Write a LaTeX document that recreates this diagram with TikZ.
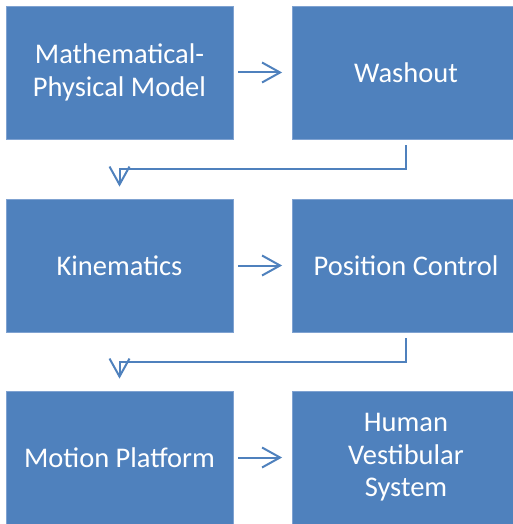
\documentclass[tikz,border=0pt]{standalone}
\usepackage{fontspec}
\setmainfont{Carlito}
\usetikzlibrary{arrows.meta}
\definecolor{boxblue}{HTML}{4F81BD}
\definecolor{boxedge}{HTML}{7FA2D1}
\begin{document}
\begin{tikzpicture}[x=1bp,y=-1bp,
  blk/.style={fill=boxblue,draw=boxedge,line width=0.8bp,minimum width=227bp,minimum height=133bp,
    inner sep=0pt,text=white,align=center,font=\fontsize{28.5bp}{32.5bp}\selectfont},
  conn/.style={draw=boxblue,line width=2bp,-{Straight Barb[length=18bp,width=20bp,line width=2bp]}}]
\useasboundingbox (0,0) rectangle (513,524);
\begin{scope}
\clip (0,0) rectangle (513,524);
\node[blk] (tl) at (119.5,72.5) {Mathematical-\\Physical Model};
\node[blk] (tr) at (406,72.5) {Washout};
\node[blk] (ml) at (119.5,265.5) {Kinematics};
\node[blk] (mr) at (406,265.5) {Position Control};
\node[blk] (bl) at (119.5,457.5) {Motion Platform};
\node[blk] (br) at (406,457.5) {Human\\Vestibular\\System};
\end{scope}
\draw[conn] ([xshift=5bp]tl.east) -- ([xshift=-10bp]tr.west);
\draw[conn] ([xshift=5bp]ml.east) -- ([xshift=-10bp]mr.west);
\draw[conn] ([xshift=5bp]bl.east) -- ([xshift=-10bp]br.west);
\coordinate (c1) at ([yshift=-30bp]tr.south);
\coordinate (c2) at ([yshift=-30bp]mr.south);
\draw[conn] ([yshift=-6bp]tr.south) -- (c1) -- (c1 -| ml.north) -- ([yshift=12bp]ml.north);
\draw[conn] ([yshift=-6bp]mr.south) -- (c2) -- (c2 -| bl.north) -- ([yshift=12bp]bl.north);
\end{tikzpicture}
\end{document}
